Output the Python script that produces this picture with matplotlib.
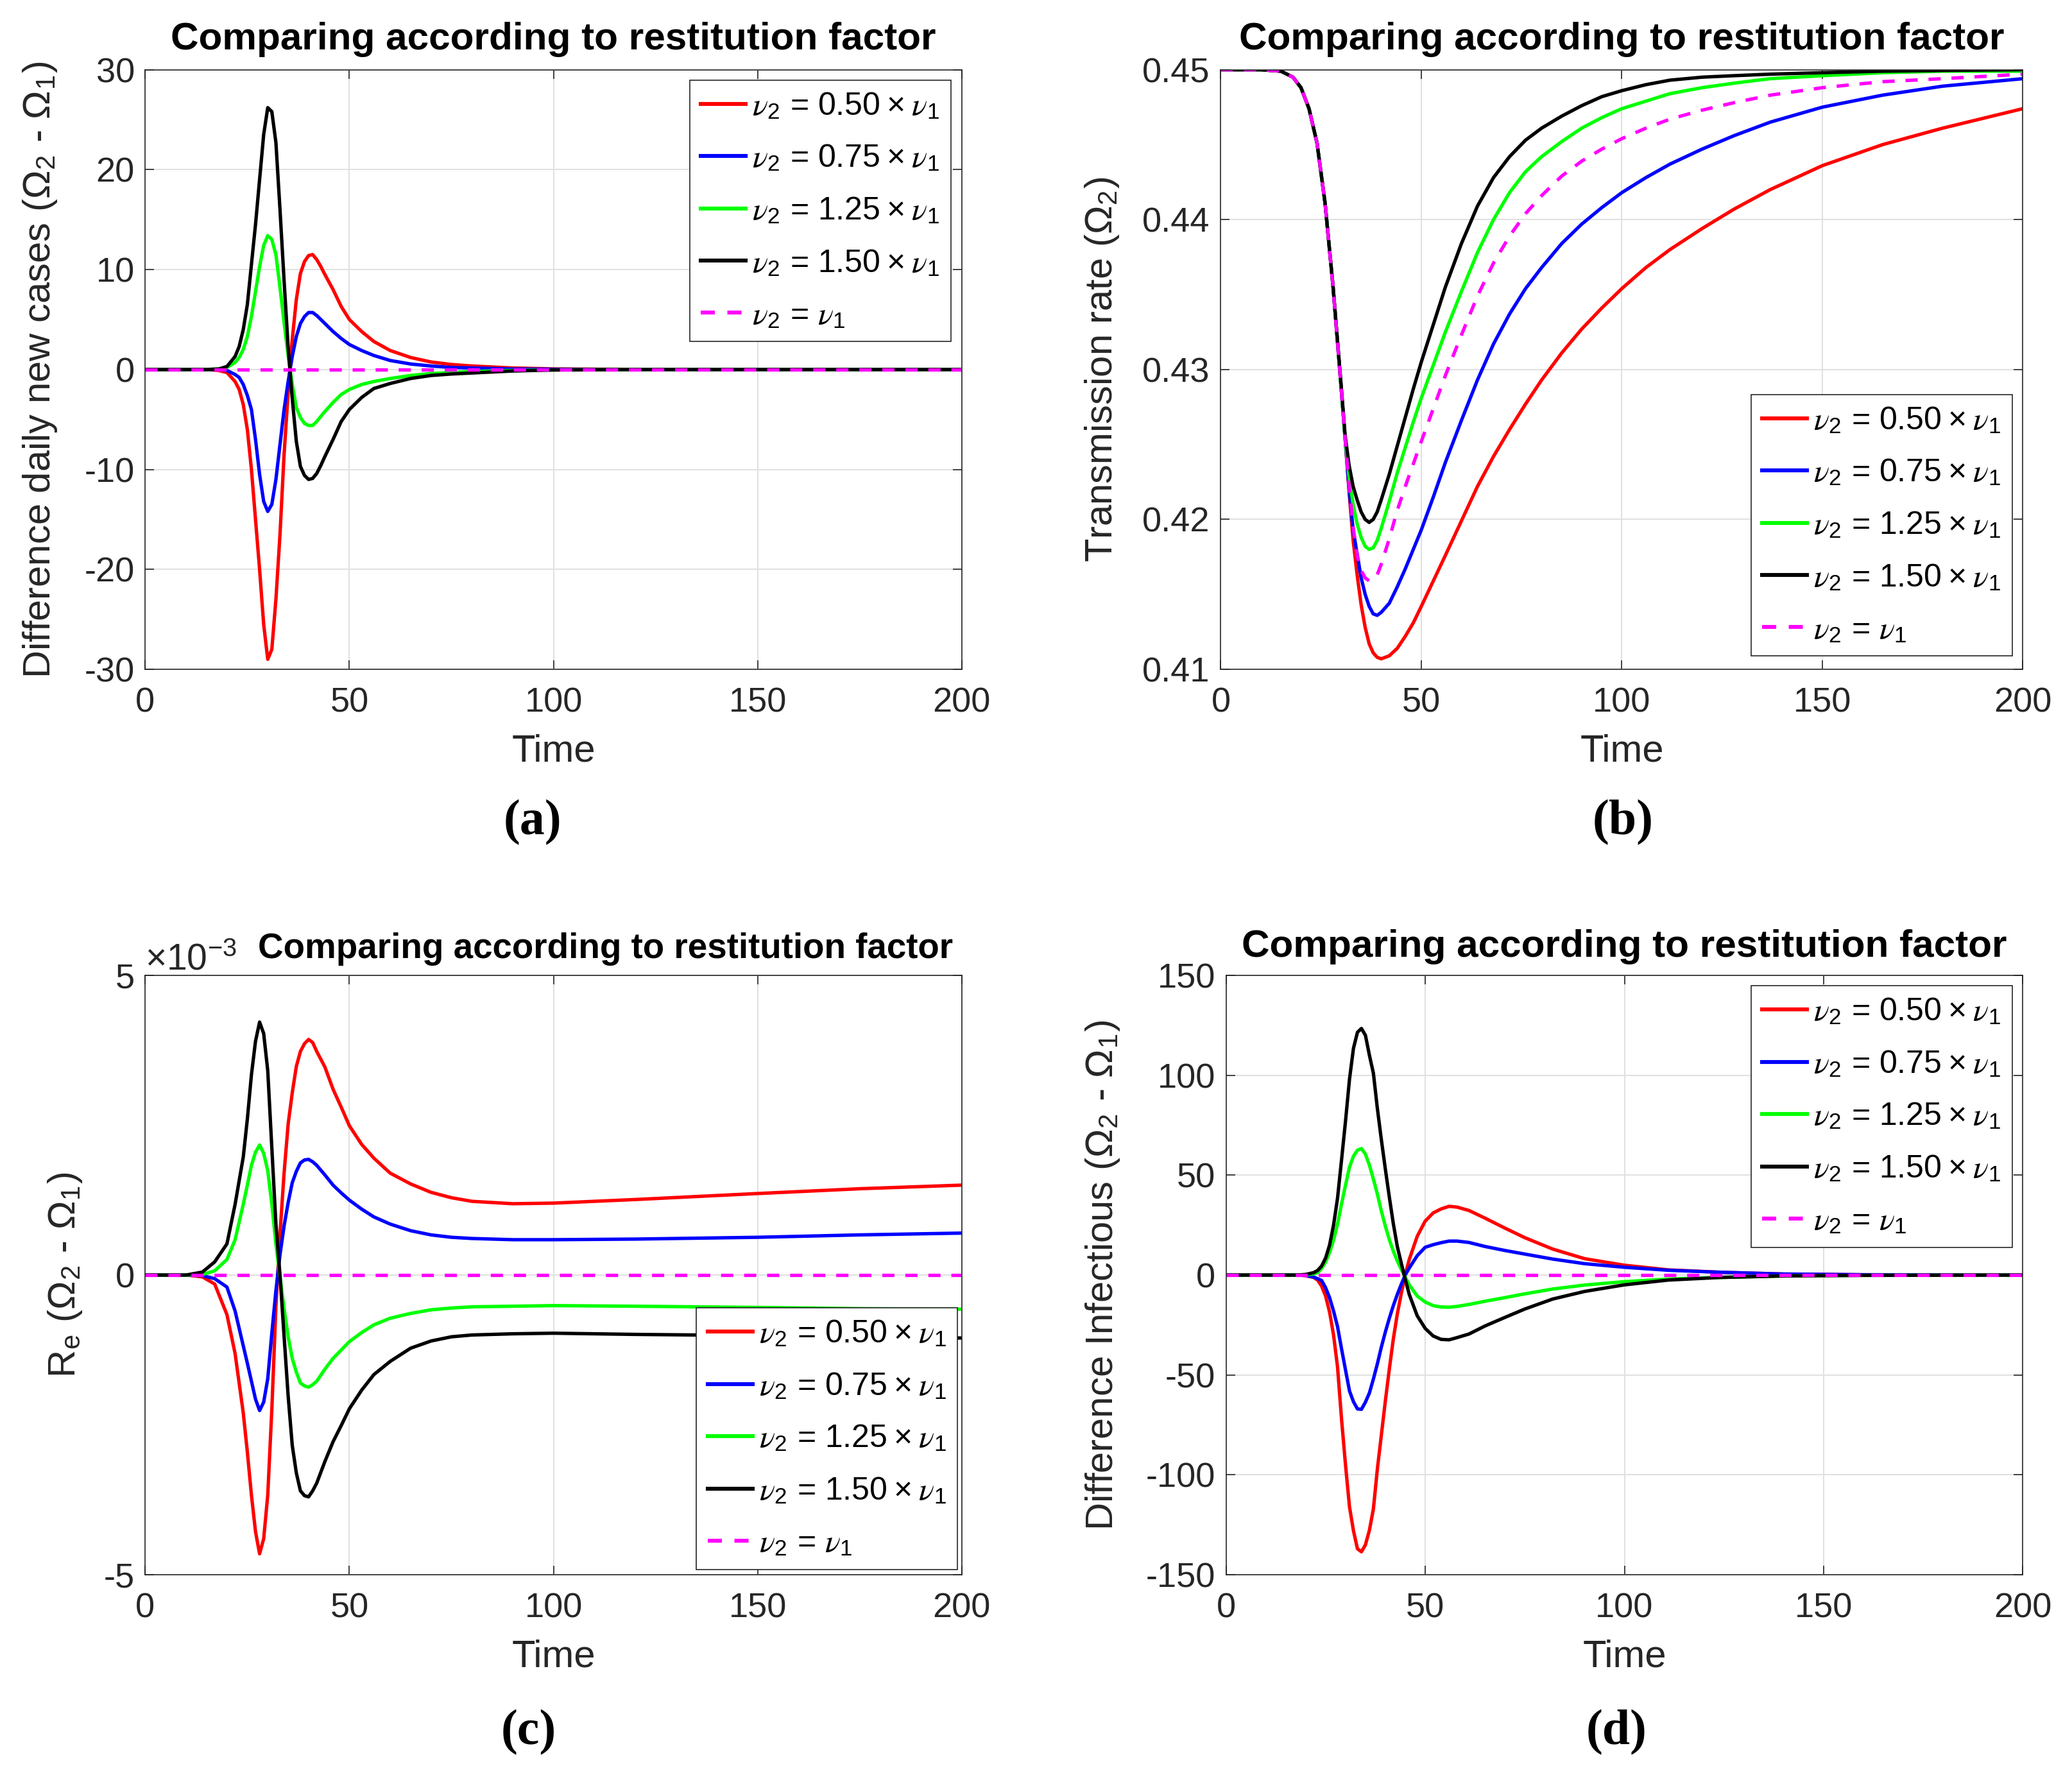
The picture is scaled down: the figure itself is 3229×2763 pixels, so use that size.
import numpy as np
import matplotlib
matplotlib.use("Agg")
import matplotlib.pyplot as plt
from matplotlib.ticker import ScalarFormatter

plt.rcParams['font.family'] = ['Liberation Sans', 'DejaVu Sans']
plt.rcParams['mathtext.fontset'] = 'custom'
plt.rcParams['mathtext.rm'] = 'Liberation Sans'
plt.rcParams['mathtext.it'] = 'STIXGeneral:italic'
plt.rcParams['mathtext.bf'] = 'Liberation Sans:bold'
plt.rcParams['axes.unicode_minus'] = False

# ---------------- data ----------------
labels = [r'$\nu_2$ = 0.50$\hspace{0.08}\times\hspace{0.08}\nu_1$',
          r'$\nu_2$ = 0.75$\hspace{0.08}\times\hspace{0.08}\nu_1$',
          r'$\nu_2$ = 1.25$\hspace{0.08}\times\hspace{0.08}\nu_1$',
          r'$\nu_2$ = 1.50$\hspace{0.08}\times\hspace{0.08}\nu_1$',
          r'$\nu_2$ = $\nu_1$']
colors = ['#ff0000', '#0000ff', '#00ff00', '#000000', '#ff00ff']

# (a) difference daily new cases
time_a = [0, 10, 15, 18, 20, 22, 23, 24, 25, 26, 27, 28, 29, 30, 31, 32, 33, 34, 35, 36,
          37, 38, 39, 40, 41, 42, 43, 44, 46, 48, 50, 53, 56, 60, 65, 70, 75, 80, 90, 100,
          120, 150, 200]
red_a = [0, 0, 0, -0.1, -0.3, -1.2, -2.0, -3.5, -6.0, -10.0, -15.0, -20.0, -25.5, -29.0,
         -28.0, -23.0, -16.5, -8.5, -2.3, 3.0, 7.0, 9.6, 10.8, 11.4, 11.5, 11.0, 10.3, 9.5,
         8.0, 6.3, 5.0, 3.8, 2.8, 1.9, 1.2, 0.75, 0.5, 0.35, 0.15, 0.06, 0.01, 0, 0]
blue_a = [0, 0, 0, 0, -0.1, -0.5, -0.8, -1.5, -2.6, -4.0, -7.0, -10.5, -13.2, -14.2,
          -13.5, -11.0, -7.5, -4.0, -1.2, 1.3, 3.3, 4.6, 5.3, 5.7, 5.7, 5.4, 5.0, 4.6,
          3.8, 3.1, 2.5, 1.9, 1.4, 0.9, 0.55, 0.35, 0.2, 0.15, 0.05, 0.02, 0, 0, 0]
green_a = [0, 0, 0, 0.05, 0.2, 0.7, 1.2, 2.0, 3.3, 5.3, 7.8, 10.3, 12.4, 13.4, 13.0, 11.5,
           8.2, 4.7, 1.4, -1.5, -3.8, -4.8, -5.4, -5.6, -5.6, -5.2, -4.7, -4.2, -3.3, -2.5,
           -2.0, -1.5, -1.2, -0.9, -0.6, -0.4, -0.3, -0.2, -0.1, -0.04, 0, 0, 0]
black_a = [0, 0, 0, 0.05, 0.3, 1.3, 2.3, 4.0, 6.5, 10.5, 14.5, 19.0, 23.5, 26.2, 25.8,
           22.7, 16.0, 8.9, 2.2, -2.9, -7.2, -9.7, -10.6, -11.0, -10.9, -10.4, -9.6, -8.7,
           -7.0, -5.2, -4.0, -2.8, -1.9, -1.4, -0.9, -0.6, -0.45, -0.35, -0.15, -0.05, 0, 0, 0]
same_a = [0] * len(time_a)

# (b) transmission rate
time_b = [0, 10, 15, 18, 20, 22, 24, 26, 28, 30, 31, 32, 33, 34, 35, 36, 37, 38, 39, 40,
          42, 44, 46, 48, 50, 53, 56, 60, 64, 68, 72, 76, 80, 85, 90, 95, 100, 106, 112,
          120, 128, 137, 150, 165, 180, 200]
red_b = [0.45, 0.45, 0.4499, 0.4495, 0.4488, 0.4474, 0.4451, 0.4411, 0.4355, 0.4288,
         0.4254, 0.4218, 0.4186, 0.4163, 0.4143, 0.4128, 0.4117, 0.4111, 0.4108, 0.4107,
         0.4109, 0.4114, 0.4122, 0.4131, 0.4142, 0.4159, 0.4176, 0.4199, 0.4222, 0.4242,
         0.4260, 0.4277, 0.4293, 0.4311, 0.4327, 0.4341, 0.4354, 0.4368, 0.4380, 0.4394,
         0.4407, 0.4420, 0.4436, 0.4450, 0.4461, 0.4474]
blue_b = [0.45, 0.45, 0.4499, 0.4495, 0.4488, 0.4474, 0.4451, 0.4411, 0.4355, 0.4288,
          0.4254, 0.4220, 0.4193, 0.4177, 0.4161, 0.4150, 0.4142, 0.4137, 0.4136, 0.4138,
          0.4144, 0.4155, 0.4167, 0.4180, 0.4193, 0.4215, 0.4238, 0.4266, 0.4293, 0.4317,
          0.4337, 0.4354, 0.4368, 0.4384, 0.4397, 0.4408, 0.4418, 0.4428, 0.4437, 0.4447,
          0.4456, 0.4465, 0.4475, 0.4483, 0.4489, 0.4494]
green_b = [0.45, 0.45, 0.4499, 0.4495, 0.4488, 0.4474, 0.4451, 0.4411, 0.4355, 0.4288,
           0.4254, 0.4228, 0.4210, 0.4197, 0.4188, 0.4182, 0.4180, 0.4181, 0.4186, 0.4194,
           0.4212, 0.4231, 0.4248, 0.4265, 0.4281, 0.4303, 0.4325, 0.4352, 0.4378, 0.4400,
           0.4418, 0.4432, 0.4442, 0.4452, 0.4461, 0.4468, 0.4474, 0.4479, 0.4484, 0.4488,
           0.4491, 0.4494, 0.4496, 0.4498, 0.4499, 0.4499]
black_b = [0.45, 0.45, 0.4499, 0.4495, 0.4488, 0.4474, 0.4451, 0.4411, 0.4355, 0.4290,
           0.4256, 0.4236, 0.4222, 0.4213, 0.4205, 0.4200, 0.4198, 0.4200, 0.4205, 0.4213,
           0.4230, 0.4249, 0.4268, 0.4287, 0.4305, 0.4330, 0.4355, 0.4384, 0.4409, 0.4428,
           0.4442, 0.4453, 0.4461, 0.4469, 0.4476, 0.4482, 0.4486, 0.4490, 0.4493, 0.4495,
           0.4496, 0.4497, 0.4498, 0.4499, 0.44995, 0.45]
same_b = [0.45, 0.45, 0.4499, 0.4495, 0.4488, 0.4474, 0.4451, 0.4411, 0.4355, 0.4288,
          0.4254, 0.4222, 0.4195, 0.4176, 0.4166, 0.4161, 0.4159, 0.4160, 0.4163, 0.4170,
          0.4187, 0.4206, 0.4222, 0.4237, 0.4252, 0.4274, 0.4296, 0.4323, 0.4349, 0.4371,
          0.4389, 0.4404, 0.4416, 0.4429, 0.4439, 0.4447, 0.4454, 0.4461, 0.4467, 0.4473,
          0.4478, 0.4483, 0.4488, 0.4492, 0.4494, 0.4497]

# (c) effective reproduction number difference
time_c = [0, 10, 14, 17, 20, 22, 24, 25, 26, 27, 28, 29, 30, 31, 32, 33, 34, 35, 36, 37,
          38, 39, 40, 41, 42, 44, 46, 48, 50, 53, 56, 60, 65, 70, 75, 80, 90, 100, 120,
          150, 175, 200]
red_c = [0, 0, -0.00003, -0.00015, -0.00066, -0.00131, -0.0023, -0.00295, -0.00367,
         -0.00428, -0.00465, -0.0044, -0.00367, -0.00224, -0.00052, 0.00069, 0.0017,
         0.00252, 0.00304, 0.00348, 0.00373, 0.00386, 0.00393, 0.00388, 0.00373, 0.00347,
         0.0031, 0.0028, 0.00249, 0.00218, 0.00195, 0.0017, 0.00152, 0.00138, 0.00129,
         0.00123, 0.00119, 0.0012, 0.00126, 0.00136, 0.00144, 0.0015]
blue_c = [0, 0, -0.00001, -0.00006, -0.0002, -0.0006, -0.00118, -0.00147, -0.00177,
          -0.00207, -0.00226, -0.00212, -0.00173, -0.00097, -0.00026, 0.00034, 0.00082,
          0.00121, 0.00154, 0.00173, 0.00187, 0.00192, 0.00193, 0.00189, 0.00183, 0.00167,
          0.0015, 0.00137, 0.00125, 0.0011, 0.00097, 0.00085, 0.00074, 0.00067, 0.00063,
          0.00061, 0.00059, 0.00059, 0.0006, 0.00063, 0.00067, 0.0007]
green_c = [0, 0, 0.00001, 0.00007, 0.00026, 0.00059, 0.00118, 0.0015, 0.00183, 0.00205,
           0.00217, 0.00203, 0.00174, 0.00118, 0.00052, -0.00003, -0.00056, -0.00103,
           -0.00139, -0.00162, -0.0018, -0.00185, -0.00187, -0.00183, -0.00177, -0.00157,
           -0.00139, -0.00125, -0.00111, -0.00096, -0.00083, -0.00072, -0.00064, -0.00058,
           -0.00055, -0.00053, -0.00052, -0.00051, -0.00052, -0.00054, -0.00056, -0.00057]
black_c = [0, 0, 0.00005, 0.00022, 0.00052, 0.00118, 0.00197, 0.0026, 0.00334, 0.0039,
           0.00422, 0.00403, 0.00341, 0.00212, 0.00085, 0.0, -0.00102, -0.00202, -0.00284,
           -0.0033, -0.0036, -0.00368, -0.0037, -0.0036, -0.00347, -0.00311, -0.00278,
           -0.00251, -0.00223, -0.00192, -0.00166, -0.00144, -0.00122, -0.0011, -0.00103,
           -0.001, -0.00098, -0.00097, -0.00099, -0.00101, -0.00103, -0.00105]
same_c = [0] * len(time_c)

# (d) difference infectious
time_d = [0, 10, 18, 20, 22, 23, 24, 25, 26, 27, 28, 29, 30, 31, 32, 33, 34, 35, 36, 37,
          38, 39, 40, 41, 42, 43, 44, 45, 46, 48, 50, 52, 54, 56, 58, 61, 65, 70, 75, 82,
          90, 100, 111, 124, 140, 160, 200]
red_d = [0, 0, 0, -0.3, -1.2, -2.5, -5.5, -10.5, -18.5, -30, -46, -72, -95, -116, -128,
         -137, -138.5, -135, -127.7, -117, -97, -80, -63, -47, -32, -19.5, -9.2, 0.3, 7.8,
         19.4, 27, 31.1, 33.1, 34.4, 34.0, 32.3, 28.5, 23.5, 18.7, 13.0, 8.2, 4.9, 2.6,
         1.4, 0.5, 0.15, 0]
blue_d = [0, 0, 0, -0.2, -1.0, -1.8, -2.7, -6.3, -11.3, -18, -25.8, -36.9, -47.5, -58,
          -63.4, -67, -67.2, -63.6, -59, -52, -44.4, -36, -28.5, -21.6, -15.3, -9.7, -4.6,
          0.1, 3.5, 9.7, 13.9, 15.2, 16.2, 17.0, 17.0, 16.3, 14.3, 12.3, 10.5, 8.0, 5.7,
          3.9, 2.4, 1.4, 0.5, 0.15, 0]
green_d = [0, 0, 0, 0.1, 0.6, 1.2, 3.3, 6.5, 11.3, 17.5, 25.5, 35.5, 45, 54, 59.5, 62.5,
           63.3, 60.5, 55, 48, 40.5, 32, 24.5, 17.7, 12, 7, 2.9, -1.1, -4.9, -10.5, -13.5,
           -15.3, -16, -16.1, -15.7, -14.7, -13.1, -11.3, -9.4, -7.0, -5.0, -3.3, -2.0,
           -1.2, -0.45, -0.15, 0]
black_d = [0, 0, 0, 0.3, 1.2, 2.3, 4.5, 8.5, 15, 25, 38.5, 57.5, 77, 98, 113.5, 121.5,
           123.4, 120, 110, 101, 83.3, 67.7, 53, 39, 25.7, 14.3, 5.9, -2.2, -9.7, -20.4,
           -26.7, -30.5, -32.2, -32.4, -31.3, -29.5, -25.5, -21.2, -17.0, -12.0, -8.2, -4.9,
           -2.5, -1.2, -0.45, -0.15, 0]
same_d = [0] * len(time_d)

titles = 'Comparing according to restitution factor'
xticks = [0, 50, 100, 150, 200]

# ---------------- figure ----------------
fig = plt.figure(figsize=(16.15, 13.815), dpi=200)
axA = fig.add_axes([0.0701, 0.6225, 0.3939, 0.3382])
axB = fig.add_axes([0.589, 0.6225, 0.387, 0.3382])
axC = fig.add_axes([0.0701, 0.1118, 0.3939, 0.3381])
axD = fig.add_axes([0.5915, 0.1118, 0.3845, 0.3381])

GREY = '#262626'
TICK_FS = 19.5
LABEL_FS = 21.5
LEG_FS = 18
LW = 1.9


def draw(ax, x, series):
    for i, y in enumerate(series):
        if i == 4:
            ax.plot(x, y, color=colors[i], lw=LW, ls=(0, (3.6, 3.2)), label=labels[i])
        else:
            ax.plot(x, y, color=colors[i], lw=LW, label=labels[i])


def style(ax, ylim, yticks):
    ax.set_xlim(0, 200)
    ax.set_ylim(*ylim)
    ax.set_xticks(xticks)
    ax.set_yticks(yticks)
    ax.grid(True, color='#e0e0e0', lw=0.7)
    ax.set_axisbelow(True)
    ax.tick_params(direction='in', top=True, right=True, length=5, width=0.6,
                   colors=GREY, labelsize=TICK_FS)
    ax.tick_params(axis='x', pad=10)
    ax.tick_params(axis='y', pad=6)
    for s in ax.spines.values():
        s.set_color(GREY)
        s.set_linewidth(0.6)
    ax.set_xlabel('Time', fontsize=LABEL_FS, color=GREY)
    ax.xaxis.set_label_coords(0.5, -0.137)
    ax.xaxis.label.set_va('center')


def legend(ax, loc, anchor):
    leg = ax.legend(loc=loc, bbox_to_anchor=anchor, borderaxespad=0, fancybox=False,
                    edgecolor=GREY, framealpha=1, fontsize=LEG_FS, handlelength=1.4,
                    handletextpad=0.2, labelspacing=0.7, borderpad=0.35)
    leg.get_frame().set_linewidth(0.6)
    for ln in leg.get_lines():
        ln.set_linewidth(2.2)
    return leg


def ylabel(ax, text, xpos):
    ax.set_ylabel(text, fontsize=LABEL_FS, color=GREY)
    ax.yaxis.set_label_coords(xpos, 0.5)
    ax.yaxis.label.set_va('center')


class PlainScalar(ScalarFormatter):
    def __call__(self, x, pos=None):
        return '%g' % round(x / 10 ** self.orderOfMagnitude, 6)


# (a)
draw(axA, time_a, [red_a, blue_a, green_a, black_a, same_a])
style(axA, (-30, 30), [-30, -20, -10, 0, 10, 20, 30])
ylabel(axA, r'Difference daily new cases ($\Omega_2$ - $\Omega_1$)', -0.129)
legend(axA, 'upper right', (1 - 8 / 612, 1 - 8 / 454))
axA.text(0.5, 1.05, titles, transform=axA.transAxes, ha='center', va='center',
         fontsize=21.7, fontweight='bold')

# (b)
draw(axB, time_b, [red_b, blue_b, green_b, black_b, same_b])
style(axB, (0.41, 0.45), [0.41, 0.42, 0.43, 0.44, 0.45])
ylabel(axB, r'Transmission rate ($\Omega_2$)', -0.148)
legend(axB, 'lower right', (1 - 8 / 605, 10 / 454))
axB.text(0.5, 1.05, titles, transform=axB.transAxes, ha='center', va='center',
         fontsize=21.7, fontweight='bold')

# (c)
draw(axC, time_c, [red_c, blue_c, green_c, black_c, same_c])
style(axC, (-0.005, 0.005), [-0.005, 0, 0.005])
fmt = PlainScalar(useMathText=True)
fmt.set_powerlimits((-3, -3))
axC.yaxis.set_major_formatter(fmt)
axC.yaxis.get_offset_text().set_fontsize(20.5)
axC.yaxis.get_offset_text().set_color(GREY)
ylabel(axC, r'R$_\mathrm{e}$ ($\Omega_2$ - $\Omega_1$)', -0.098)
legend(axC, 'lower right', (1 - 3 / 612, 4 / 453))
axC.text(0.564, 1.044, titles, transform=axC.transAxes, ha='center', va='center',
         fontsize=19.7, fontweight='bold')

# (d)
draw(axD, time_d, [red_d, blue_d, green_d, black_d, same_d])
style(axD, (-150, 150), [-150, -100, -50, 0, 50, 100, 150])
ylabel(axD, r'Difference Infectious ($\Omega_2$ - $\Omega_1$)', -0.155)
legend(axD, 'upper right', (1 - 8 / 601, 1 - 8 / 453))
axD.text(0.5, 1.048, titles, transform=axD.transAxes, ha='center', va='center',
         fontsize=21.7, fontweight='bold')

# sub-figure labels
for lbl, x, y in [('(a)', 0.257, 0.536), ('(b)', 0.783, 0.536),
                  ('(c)', 0.255, 0.023), ('(d)', 0.780, 0.023)]:
    fig.text(x, y, lbl, ha='center', va='center', fontsize=28, fontweight='bold',
             family=['Liberation Serif', 'DejaVu Serif'])

fig.savefig('out.png', dpi=200, facecolor='white')
